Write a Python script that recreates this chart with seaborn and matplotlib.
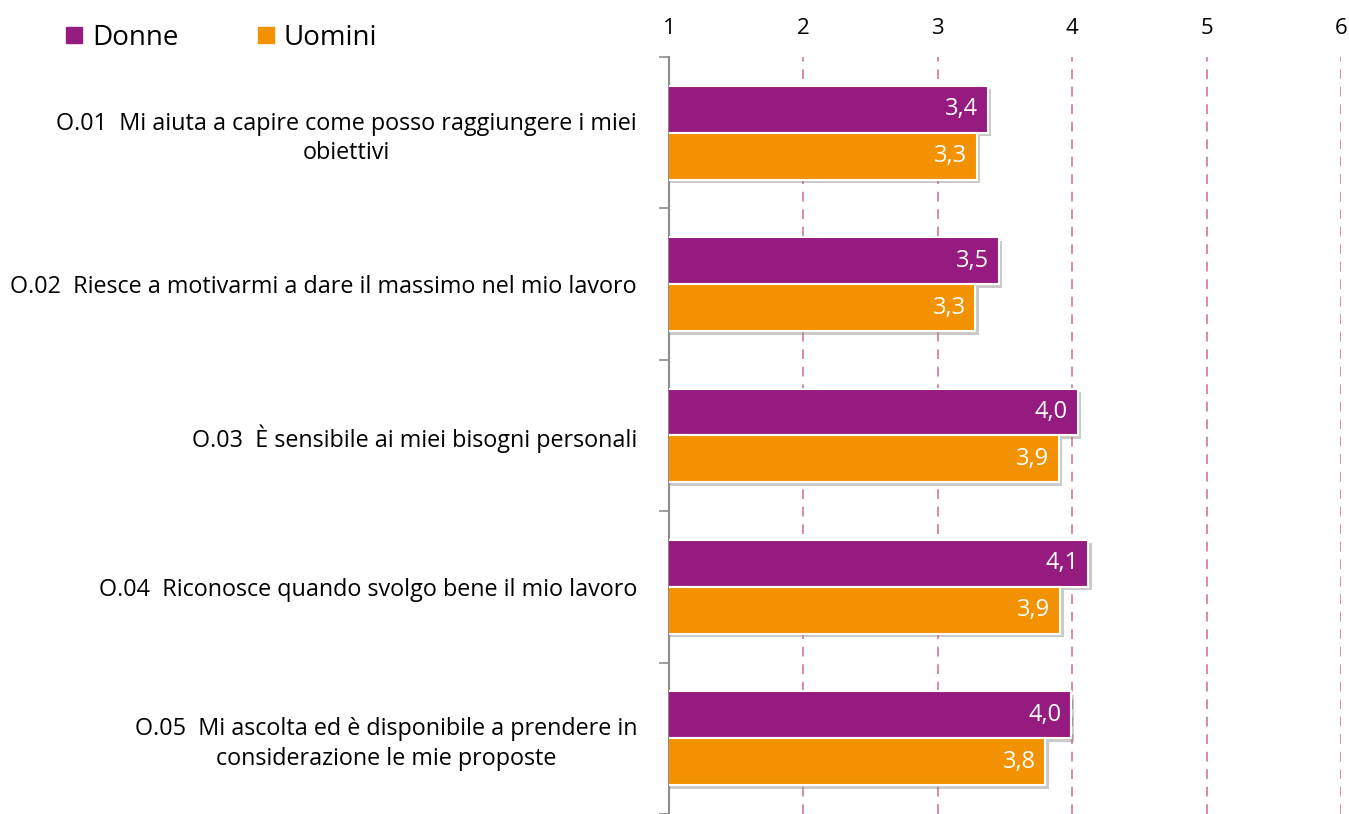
import matplotlib
matplotlib.use("Agg")
import matplotlib.pyplot as plt
import matplotlib.patheffects as pe
from matplotlib.lines import Line2D
import numpy as np
import pandas as pd
import seaborn as sns

# Survey items (Italian) and mean scores on a 1-6 scale
items = [
    "O.01  Mi aiuta a capire come posso raggiungere i miei\nobiettivi",
    "O.02  Riesce a motivarmi a dare il massimo nel mio lavoro",
    "O.03  È sensibile ai miei bisogni personali",
    "O.04  Riconosce quando svolgo bene il mio lavoro",
    "O.05  Mi ascolta ed è disponibile a prendere in\nconsiderazione le mie proposte",
]
donne = [3.37, 3.455, 4.04, 4.12, 3.99]
uomini = [3.29, 3.28, 3.90, 3.91, 3.80]
groups = ["Donne", "Uomini"]
x_ticks = [1, 2, 3, 4, 5, 6]

colors = {"Donne": "#951B81", "Uomini": "#F39200"}

df = pd.DataFrame({
    "item": items * 2,
    "score": donne + uomini,
    "gruppo": ["Donne"] * len(items) + ["Uomini"] * len(items),
})

sns.set_theme(style="white")
plt.rcParams["font.family"] = ["Open Sans", "DejaVu Sans"]
plt.rcParams["text.color"] = "black"
plt.rcParams["xtick.color"] = "black"
plt.rcParams["ytick.color"] = "black"

fig = plt.figure(figsize=(13.49, 8.14), dpi=100)
ax = fig.add_axes([669 / 1349, 0.0, (1341 - 669) / 1349, 1 - 57 / 814])

sns.barplot(data=df, y="item", x="score", hue="gruppo", order=items,
            hue_order=groups, palette=colors, saturation=1, orient="h",
            width=0.62, ax=ax, legend=False, edgecolor="white",
            linewidth=1.5, zorder=3)

shadow = [pe.SimplePatchShadow(offset=(2.5, -2.5), shadow_rgbFace="#8a8a8a", alpha=0.45),
          pe.Normal()]
for patch in ax.patches:
    patch.set_path_effects(shadow)

ax.set_xlim(1, 6)
ax.set_ylim(4.5, -0.5)

# Value labels inside the bar ends, Italian decimal comma
n = len(items)
bar_h = 0.62 / 2
for i in range(n):
    for j, vals in enumerate((donne, uomini)):
        yc = i - bar_h / 2 + j * bar_h
        ax.annotate(f"{vals[i]:.1f}".replace(".", ","), xy=(vals[i], yc),
                    xytext=(-7, 0), textcoords="offset points",
                    ha="right", va="center", color="white", fontsize=17,
                    zorder=5)

# Dashed vertical grid
for xv in x_ticks[1:]:
    ax.axvline(xv, color="#D98AA6", linestyle=(0, (5, 4)), linewidth=1.4, zorder=1)

ax.xaxis.tick_top()
ax.set_xticks(x_ticks)
ax.set_xticklabels([str(v) for v in x_ticks], fontsize=16)
ax.tick_params(axis="x", length=0, pad=13)
ax.set_xlabel("")
ax.set_ylabel("")

ax.set_yticks(range(n))
ax.set_yticklabels(items, fontsize=16.8, multialignment="center", linespacing=1.3)
ax.tick_params(axis="y", which="major", length=0, pad=23)
ax.set_yticks(np.arange(-0.5, n, 1), minor=True)
ax.tick_params(axis="y", which="minor", length=7, width=1.2, color="#8c8c8c", left=True)

for s in ["top", "right", "bottom"]:
    ax.spines[s].set_visible(False)
ax.spines["left"].set_color("#8c8c8c")
ax.spines["left"].set_linewidth(1.5)

handles = [Line2D([], [], marker="s", linestyle="none", markersize=11,
                  markerfacecolor=colors[g], markeredgecolor=colors[g]) for g in groups]
fig.legend(handles, groups, loc="center left", bbox_to_anchor=(0.026, 1 - 38 / 814),
           ncol=2, frameon=False, fontsize=20, handletextpad=0.15,
           columnspacing=2.65, handlelength=1.0)

fig.savefig("out.png", dpi=100)
